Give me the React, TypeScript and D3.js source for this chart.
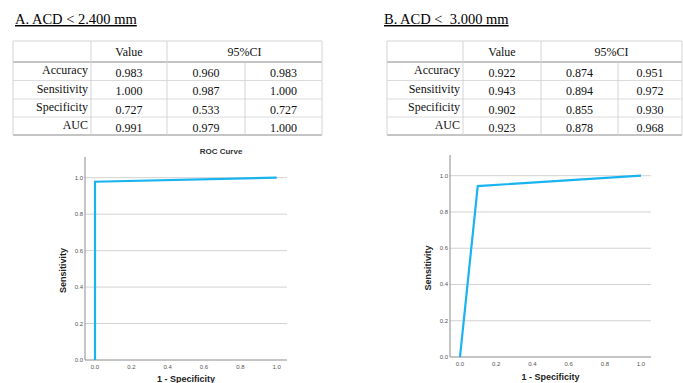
import React from "react";
import * as d3 from "d3";

const rowLabels = ["Accuracy", "Sensitivity", "Specificity", "AUC"];
const headerLabels = ["Value", "95%CI"];
const tableA = [
  ["0.983", "0.960", "0.983"],
  ["1.000", "0.987", "1.000"],
  ["0.727", "0.533", "0.727"],
  ["0.991", "0.979", "1.000"],
];
const tableB = [
  ["0.922", "0.874", "0.951"],
  ["0.943", "0.894", "0.972"],
  ["0.902", "0.855", "0.930"],
  ["0.923", "0.878", "0.968"],
];
const rocA: [number, number][] = [[0, 0], [0, 0.978], [1, 1]];
const rocB: [number, number][] = [[0, 0], [0.098, 0.943], [1, 1]];
const ticks = [0, 0.2, 0.4, 0.6, 0.8, 1.0];

const serif = "'Liberation Serif', 'Times New Roman', serif";
const sans = "'Liberation Sans', Arial, sans-serif";

function Table({ cols, title, titleX, data }: { cols: number[]; title: string; titleX: number; data: string[][] }) {
  const rows = [41, 62, 80.5, 99, 117, 135];
  const [l, c1, c2, c3, r] = cols;
  const centers = [(c1 + c2) / 2, (c2 + c3) / 2, (c3 + r) / 2];
  return (
    <g>
      <text x={titleX} y={24} fontFamily={serif} fontSize={14.5} fill="#000" textDecoration="underline" style={{ whiteSpace: "pre" }}>{title}</text>
      <line x1={l} x2={r} y1={rows[0]} y2={rows[0]} stroke="#d4d4d4" />
      <line x1={l} x2={r} y1={rows[1]} y2={rows[1]} stroke="#8a8a8a" />
      {rows.slice(2, 5).map((y, i) => (
        <line key={i} x1={l} x2={r} y1={y} y2={y} stroke="#dcdcdc" />
      ))}
      <line x1={l} x2={r} y1={rows[5]} y2={rows[5]} stroke="#8a8a8a" />
      {[l, c1, c2, r].map((x, i) => (
        <line key={i} x1={x} x2={x} y1={rows[0]} y2={rows[5]} stroke="#d4d4d4" />
      ))}
      <line x1={c3} x2={c3} y1={rows[1]} y2={rows[5]} stroke="#d4d4d4" />
      <text x={(c1 + c2) / 2} y={56} textAnchor="middle" fontFamily={serif} fontSize={12} fill="#111">{headerLabels[0]}</text>
      <text x={(c2 + r) / 2} y={56} textAnchor="middle" fontFamily={serif} fontSize={12} fill="#111">{headerLabels[1]}</text>
      {rowLabels.map((lab, i) => {
        const mid = (rows[i + 1] + rows[i + 2]) / 2;
        return (
          <g key={lab}>
            <text x={c1 - 3} y={mid + 3} textAnchor="end" fontFamily={serif} fontSize={12} fill="#111">{lab}</text>
            {data[i].map((v, j) => (
              <text key={j} x={centers[j]} y={mid + 5.5} textAnchor="middle" fontFamily={serif} fontSize={12} fill="#111">{v}</text>
            ))}
          </g>
        );
      })}
    </g>
  );
}

function Roc({ axisX, top, y0, y1, x0, x1, right, data, title, titleX, ylabX, xlabY }: any) {
  const xs = d3.scaleLinear().domain([0, 1]).range([x0, x1]);
  const ys = d3.scaleLinear().domain([0, 1]).range([y0, y1]);
  const line = d3.line<[number, number]>().x((d) => xs(d[0])).y((d) => ys(d[1]));
  return (
    <g>
      {title && (
        <text x={titleX} y={154} textAnchor="middle" fontFamily={sans} fontSize={8} fontWeight="bold" fill="#333">{title}</text>
      )}
      {ticks.slice(1).map((t) => (
        <line key={t} x1={axisX} x2={right} y1={ys(t)} y2={ys(t)} stroke="#d2d2d2" strokeWidth={1} />
      ))}
      <line x1={axisX} x2={axisX} y1={top} y2={y0} stroke="#8c8c8c" />
      <line x1={axisX} x2={right} y1={y0} y2={y0} stroke="#8c8c8c" />
      {ticks.map((t) => (
        <text key={"y" + t} x={axisX - 2} y={ys(t) + 2} textAnchor="end" fontFamily={sans} fontSize={6} fill="#555">{t.toFixed(1)}</text>
      ))}
      {ticks.map((t) => (
        <text key={"x" + t} x={xs(t)} y={y0 + 9} textAnchor="middle" fontFamily={sans} fontSize={6} fill="#555">{t.toFixed(1)}</text>
      ))}
      <text transform={`translate(${ylabX},${(top + y0) / 2 + 12}) rotate(-90)`} textAnchor="middle" fontFamily={sans} fontSize={9} fontWeight="bold" fill="#222">Sensitivity</text>
      <text x={(axisX + right) / 2} y={xlabY} textAnchor="middle" fontFamily={sans} fontSize={9} fontWeight="bold" fill="#222">1 - Specificity</text>
      <path d={line(data) || ""} fill="none" stroke="#19b4f0" strokeWidth={2.2} strokeLinejoin="miter" />
    </g>
  );
}

export default function App() {
  return (
    <svg width={683} height={383} style={{ position: "absolute", left: 0, top: 0, background: "#fff" }}>
      <rect width={683} height={383} fill="#fff" />
      <Table cols={[13, 91, 167, 245, 322]} title="A. ACD < 2.400 mm" titleX={15} data={tableA} />
      <Table cols={[387, 463, 541, 618, 682]} title={"B. ACD <\u00a0 3.000 mm"} titleX={384} data={tableB} />
      <Roc axisX={85} top={157} y0={360} y1={177.7} x0={95} x1={276.7} right={287} data={rocA} title="ROC Curve" titleX={221} ylabX={66} xlabY={382} />
      <Roc axisX={450} top={155} y0={357} y1={175.7} x0={460} x1={641} right={651} data={rocB} ylabX={431} xlabY={380} />
    </svg>
  );
}
